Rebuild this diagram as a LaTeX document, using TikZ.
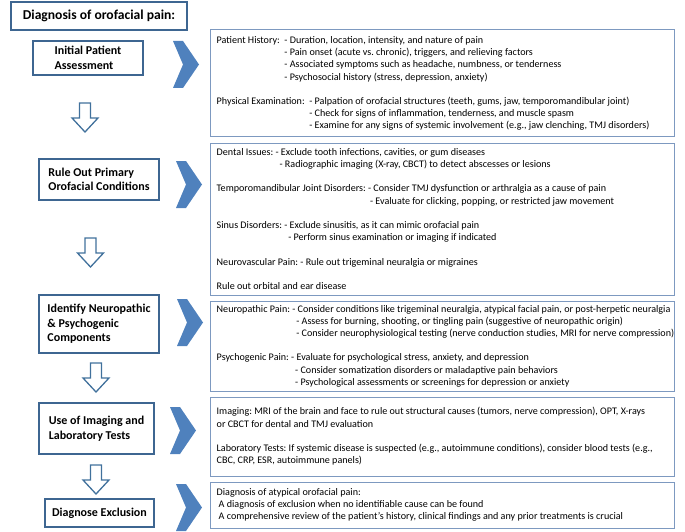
\documentclass[tikz,border=0pt]{standalone}
\usepackage{fontspec}
\setmainfont{Carlito}
\definecolor{chevblue}{HTML}{4F81BD}
\definecolor{lbord}{HTML}{3E6691}
\definecolor{rbord}{HTML}{7D99C0}
\definecolor{abord}{HTML}{41719C}
\tikzset{
  leftbox/.style={draw=lbord, line width=1.8pt, fill=white, inner sep=0pt,
    align=left, font=\bfseries\fontsize{12}{14.6}\selectfont},
  rightbox/.style={draw=rbord, line width=1pt, inner sep=0pt},
  bodytext/.style={anchor=west, inner sep=0pt, align=left,
    font=\fontsize{10.1}{12.2}\selectfont\frenchspacing},
  chevronpic/.pic={\fill[chevblue] (0,0) -- (10,0) -- (26,23.5) -- (10,47) -- (0,47) -- (10,23.5) -- cycle;},
  downarrowpic/.pic={\draw[draw=abord, line width=1.3pt, fill=white, line join=miter]
    (-5.5,0) -- (5.5,0) -- (5.5,15) -- (13,15) -- (0,29) -- (-13,15) -- (-5.5,15) -- cycle;}
}
\newcommand{\gapline}{\\[12.2pt]}
\begin{document}
\frenchspacing
\begin{tikzpicture}[x=1pt,y=-1pt]
\useasboundingbox (0,0) rectangle (685,532);

% title
\node[leftbox, minimum width=176pt, minimum height=28pt, font=\bfseries\fontsize{13.6}{16}\selectfont]
  (title) at (99,16) {Diagnosis of orofacial pain:};

% left step boxes
\node[leftbox, minimum width=110pt, minimum height=34pt] (l1) at (88,58)
  {Initial Patient\\Assessment};
\node[leftbox, minimum width=120pt, minimum height=41pt] (l2) at (99,179.5)
  {Rule Out Primary\\Orofacial Conditions};
\node[leftbox, minimum width=120pt, minimum height=58pt] (l3) at (99,324)
  {Identify Neuropathic\\\& Psychogenic\\Components};
\node[leftbox, minimum width=115pt, minimum height=51pt] (l4) at (96.5,428.5)
  {Use of Imaging and\\Laboratory Tests};
\node[leftbox, minimum width=109pt, minimum height=28pt] (l5) at (99.5,513)
  {Diagnose Exclusion};

% down arrows
\pic at (85,103) {downarrowpic};
\pic at (90.5,238) {downarrowpic};
\pic at (96,363) {downarrowpic};
\pic at (96,465) {downarrowpic};

% chevrons
\pic at (173,41) {chevronpic};
\pic at (176,161) {chevronpic};
\pic at (177,299) {chevronpic};
\pic at (170,407) {chevronpic};
\pic at (176,484) {chevronpic};

% right boxes
\node[rightbox, minimum width=464pt, minimum height=107pt] (r1) at (442,83.5) {};
\node[rightbox, minimum width=464pt, minimum height=152pt] (r2) at (442,219) {};
\node[rightbox, minimum width=464pt, minimum height=90pt] (r3) at (442,346) {};
\node[rightbox, minimum width=464pt, minimum height=79pt] (r4) at (442,436.5) {};
\node[rightbox, minimum width=464pt, minimum height=46pt] (r5) at (442,505) {};

\node[bodytext] (t1) at ([xshift=7pt]r1.west) {%
Patient History:\ \ - Duration, location, intensity, and nature of pain\\
\phantom{Patient History:\ \ }- Pain onset (acute vs. chronic), triggers, and relieving factors\\
\phantom{Patient History:\ \ }- Associated symptoms such as headache, numbness, or tenderness\\
\phantom{Patient History:\ \ }- Psychosocial history (stress, depression, anxiety)\gapline
Physical Examination:\ \ - Palpation of orofacial structures (teeth, gums, jaw, temporomandibular joint)\\
\phantom{Physical Examination:\ \ }- Check for signs of inflammation, tenderness, and muscle spasm\\
\phantom{Physical Examination:\ \ }- Examine for any signs of systemic involvement (e.g., jaw clenching, TMJ disorders)};

\node[bodytext] (t2) at ([xshift=7pt]r2.west) {%
Dental Issues: - Exclude tooth infections, cavities, or gum diseases\\
\phantom{Dental Issues: }\hspace{4pt}- Radiographic imaging (X-ray, CBCT) to detect abscesses or lesions\gapline
Temporomandibular Joint Disorders: - Consider TMJ dysfunction or arthralgia as a cause of pain\\
\phantom{Temporomandibular Joint Disorders: }\hspace{2pt}- Evaluate for clicking, popping, or restricted jaw movement\gapline
Sinus Disorders: - Exclude sinusitis, as it can mimic orofacial pain\\
\phantom{Sinus Disorders: }\hspace{4pt}- Perform sinus examination or imaging if indicated\gapline
Neurovascular Pain: - Rule out trigeminal neuralgia or migraines\gapline
Rule out orbital and ear disease};

\node[bodytext] (t3) at ([xshift=7pt]r3.west) {%
Neuropathic Pain: - Consider conditions like trigeminal neuralgia, atypical facial pain, or post-herpetic neuralgia\\
\phantom{Neuropathic Pain: }\hspace{4pt}- Assess for burning, shooting, or tingling pain (suggestive of neuropathic origin)\\
\phantom{Neuropathic Pain: }\hspace{4pt}- Consider neurophysiological testing (nerve conduction studies, MRI for nerve compression)\gapline
Psychogenic Pain: - Evaluate for psychological stress, anxiety, and depression\\
\phantom{Psychogenic Pain: }\hspace{4pt}- Consider somatization disorders or maladaptive pain behaviors\\
\phantom{Psychogenic Pain: }\hspace{4pt}- Psychological assessments or screenings for depression or anxiety};

\node[bodytext] (t4) at ([xshift=7pt]r4.west) {%
Imaging: MRI of the brain and face to rule out structural causes (tumors, nerve compression), OPT, X-rays\\
or CBCT for dental and TMJ evaluation\gapline
Laboratory Tests: If systemic disease is suspected (e.g., autoimmune conditions), consider blood tests (e.g.,\\
CBC, CRP, ESR, autoimmune panels)};

\node[bodytext] (t5) at ([xshift=7pt]r5.west) {%
Diagnosis of atypical orofacial pain:\\
\hspace{2pt}A diagnosis of exclusion when no identifiable cause can be found\\
\hspace{2pt}A comprehensive review of the patient’s history, clinical findings and any prior treatments is crucial};
\end{tikzpicture}
\end{document}
